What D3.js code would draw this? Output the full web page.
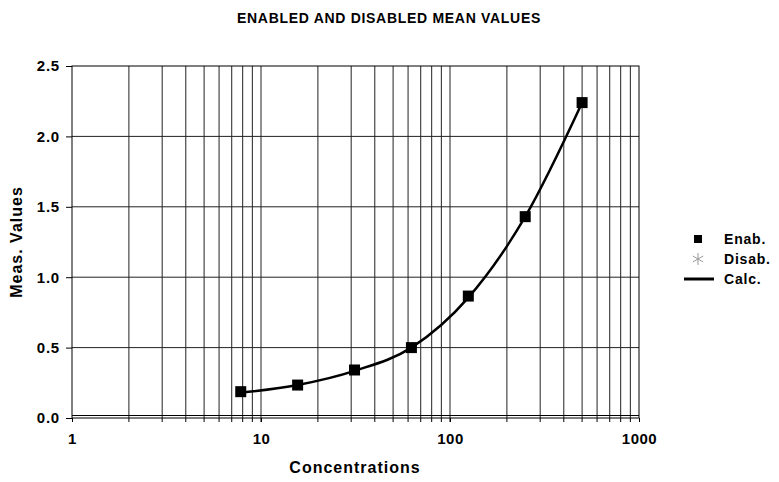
<!DOCTYPE html>
<html>
<head>
<meta charset="utf-8">
<script src="https://cdn.jsdelivr.net/npm/d3@7"></script>
<style>
  body { margin: 0; background: #fff; }
  text { font-family: "Liberation Sans", Arial, sans-serif; font-weight: bold; }
</style>
</head>
<body>
<div id="chart"></div>
<script>
// concentrations (doubling dilution series)
var concentrations = [7.8125, 15.625, 31.25, 62.5, 125, 250, 500];
// enabled mean values
var enabValues = [0.187, 0.234, 0.341, 0.50, 0.866, 1.43, 2.24];
// disabled values: none plotted
var disabValues = [];
// calculated fit at the same concentrations
var calcValues = [0.18, 0.235, 0.335, 0.50, 0.855, 1.43, 2.24];
var xTickLabels = [1, 10, 100, 1000];
var yTickLabels = [0, 0.5, 1.0, 1.5, 2.0, 2.5];
var legendItems = ['Enab.', 'Disab.', 'Calc.'];

var width = 779, height = 482;
var margin = {top: 66, right: 140, bottom: 64, left: 72};

var svg = d3.select('#chart').append('svg')
  .attr('width', width)
  .attr('height', height);

var x = d3.scaleLog()
  .domain([1, 1000])
  .range([margin.left, width - margin.right]);

var y = d3.scaleLinear()
  .domain([0, 2.5])
  .range([height - margin.bottom, margin.top]);

// title
svg.append('text')
  .attr('x', 389)
  .attr('y', 23)
  .attr('text-anchor', 'middle')
  .style('font-size', '14px')
  .style('letter-spacing', '0.7px')
  .text('ENABLED AND DISABLED MEAN VALUES');

// vertical gridlines at every log tick
var gridX = x.ticks().filter(function(d) { return d > 1 && d < 1000; });
svg.append('g')
  .selectAll('line')
  .data(gridX)
  .enter()
  .append('line')
  .attr('x1', function(d) { return x(d); })
  .attr('x2', function(d) { return x(d); })
  .attr('y1', y(2.5))
  .attr('y2', y(0))
  .attr('stroke', '#222')
  .attr('stroke-width', 1);

// horizontal gridlines
svg.append('g')
  .selectAll('line')
  .data(yTickLabels.slice(1, -1))
  .enter()
  .append('line')
  .attr('x1', x(1))
  .attr('x2', x(1000))
  .attr('y1', function(d) { return y(d); })
  .attr('y2', function(d) { return y(d); })
  .attr('stroke', '#222')
  .attr('stroke-width', 1);

// the extra baseline just above the axis
svg.append('line')
  .attr('x1', x(1))
  .attr('x2', x(1000))
  .attr('y1', y(0) - 2.5)
  .attr('y2', y(0) - 2.5)
  .attr('stroke', '#000');

// frame
svg.append('rect')
  .attr('x', x(1))
  .attr('y', y(2.5))
  .attr('width', x(1000) - x(1))
  .attr('height', y(0) - y(2.5))
  .attr('fill', 'none')
  .attr('stroke', '#000');

// axes
var xAxis = d3.axisBottom(x)
  .tickValues(xTickLabels)
  .tickFormat(d3.format('d'))
  .tickSize(4)
  .tickPadding(11);
var gx = svg.append('g')
  .attr('transform', 'translate(0,' + y(0) + ')')
  .call(xAxis);
gx.select('.domain').remove();
gx.selectAll('line').attr('stroke', '#000');
gx.selectAll('text')
  .style('font-size', '15px')
  .style('letter-spacing', '0.5px')
  .attr('fill', '#000');

// minor ticks below the axis
svg.append('g')
  .selectAll('line')
  .data(gridX)
  .enter()
  .append('line')
  .attr('x1', function(d) { return x(d); })
  .attr('x2', function(d) { return x(d); })
  .attr('y1', y(0))
  .attr('y2', y(0) + 4)
  .attr('stroke', '#000');

var yAxis = d3.axisLeft(y)
  .tickValues(yTickLabels)
  .tickFormat(d3.format('.1f'))
  .tickSize(6)
  .tickPadding(6);
var gy = svg.append('g')
  .attr('transform', 'translate(' + x(1) + ',0)')
  .call(yAxis);
gy.select('.domain').remove();
gy.selectAll('line').attr('stroke', '#000');
gy.selectAll('text')
  .style('font-size', '15px')
  .style('letter-spacing', '0.8px')
  .attr('fill', '#000');

// axis titles
svg.append('text')
  .attr('x', 355)
  .attr('y', 473)
  .attr('text-anchor', 'middle')
  .style('font-size', '16px')
  .style('letter-spacing', '1px')
  .text('Concentrations');

svg.append('text')
  .attr('transform', 'translate(22,' + y(1.25) + ') rotate(-90)')
  .attr('text-anchor', 'middle')
  .style('font-size', '16px')
  .style('letter-spacing', '1px')
  .text('Meas. Values');

// calc curve
var calcData = concentrations.map(function(c, i) { return [c, calcValues[i]]; });
var line = d3.line()
  .x(function(d) { return x(d[0]); })
  .y(function(d) { return y(d[1]); })
  .curve(d3.curveMonotoneX);
svg.append('path')
  .datum(calcData)
  .attr('d', line)
  .attr('fill', 'none')
  .attr('stroke', '#000')
  .attr('stroke-width', 2.5);

// enab markers
var enabData = concentrations.map(function(c, i) { return [c, enabValues[i]]; });
svg.append('g')
  .selectAll('rect')
  .data(enabData)
  .enter()
  .append('rect')
  .attr('x', function(d) { return x(d[0]) - 5.5; })
  .attr('y', function(d) { return y(d[1]) - 5.5; })
  .attr('width', 11)
  .attr('height', 11)
  .attr('fill', '#000');

// disab markers (none)
svg.append('g')
  .selectAll('path')
  .data(disabValues)
  .enter()
  .append('path');

// legend
var legend = svg.append('g')
  .selectAll('g')
  .data(legendItems)
  .enter()
  .append('g')
  .attr('transform', function(d, i) { return 'translate(698,' + (239 + i * 20) + ')'; });

legend.filter(function(d, i) { return i === 0; })
  .append('rect')
  .attr('x', -4).attr('y', -4)
  .attr('width', 8).attr('height', 8)
  .attr('fill', '#000');

legend.filter(function(d, i) { return i === 1; })
  .append('path')
  .attr('d', d3.symbol(d3.symbolAsterisk, 100)())
  .attr('fill', 'none')
  .attr('stroke', '#999')
  .attr('stroke-width', 1);

legend.filter(function(d, i) { return i === 2; })
  .append('line')
  .attr('x1', -14).attr('x2', 16)
  .attr('stroke', '#000')
  .attr('stroke-width', 3);

legend.append('text')
  .attr('x', 26)
  .attr('y', 5)
  .style('font-size', '14px')
  .style('letter-spacing', '0.8px')
  .text(function(d) { return d; });
</script>
</body>
</html>
